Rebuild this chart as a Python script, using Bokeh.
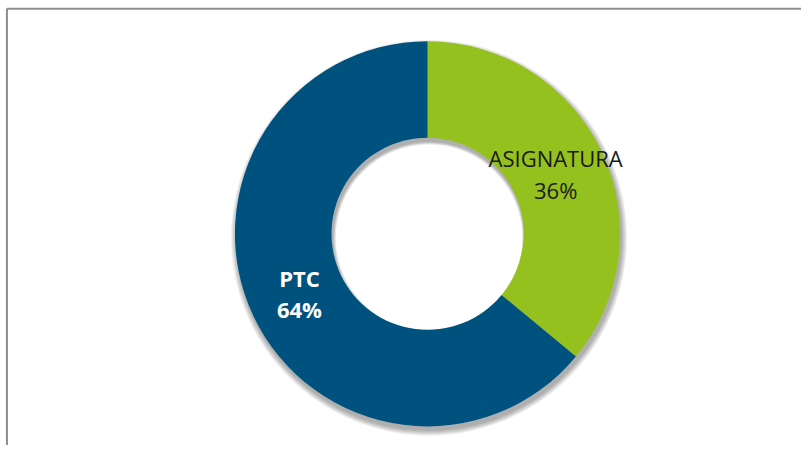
import numpy as np
from bokeh.plotting import figure
from bokeh.models import Range1d, ColumnDataSource
from bokeh.core.properties import value
from bokeh.embed import file_html
from bokeh.resources import INLINE

categories = ["ASIGNATURA", "PTC"]
percents = [36, 64]
colors = ["#95C11F", "#00527E"]
label_colors = ["#1a1a1a", "#ffffff"]
label_styles = ["normal", "bold"]

RW, RH = 809, 453
W, H = 801, 445
p = figure(width=W, height=H, output_backend="svg", toolbar_location=None,
           x_range=Range1d(0, RW), y_range=Range1d(0, RH), min_border=0)
p.axis.visible = False
p.grid.visible = False
p.outline_line_color = None
p.background_fill_color = "white"

# frame border
p.line(x=[6.5, 6.5], y=[0, RH - 8.5], line_color="#8c8c8c", line_width=2)
p.line(x=[6.5, RW], y=[RH - 8.5, RH - 8.5], line_color="#8c8c8c", line_width=2)

cx, cy = 431.3, RH - 237.5
r_in, r_out = 97, 194.5

# soft shadow
for k in range(6):
    p.annular_wedge(x=cx + 1.5, y=cy - 4, inner_radius=r_in - 3 + k * 0.6, outer_radius=r_out + 5.5 - k,
                    start_angle=0, end_angle=2 * np.pi, fill_color="black", fill_alpha=0.06,
                    line_color=None)

vals = np.array(percents, dtype=float)
frac = vals / vals.sum()
cum = np.concatenate([[0], np.cumsum(frac)])
start = np.pi / 2 - 2 * np.pi * cum[:-1]
end = np.pi / 2 - 2 * np.pi * cum[1:]
src = ColumnDataSource(dict(cat=categories, start=start, end=end, color=colors))
p.annular_wedge(x=cx, y=cy, inner_radius=r_in, outer_radius=r_out, start_angle="start",
                end_angle="end", direction="clock", fill_color="color", line_color=None, source=src)

mid = (start + end) / 2
rl = 143
for i, c in enumerate(categories):
    lx = cx + rl * np.cos(mid[i])
    ly = cy + rl * np.sin(mid[i])
    p.text(x=[lx], y=[ly + 16], text=[c], text_align="center", text_baseline="middle",
           text_font=value("Open Sans"), text_font_size="22px", text_color=label_colors[i],
           text_font_style=label_styles[i])
    p.text(x=[lx], y=[ly - 16], text=[f"{percents[i]}%"], text_align="center", text_baseline="middle",
           text_font=value("Open Sans"), text_font_size="22px", text_color=label_colors[i],
           text_font_style=label_styles[i])

open("out.html", "w").write(file_html(p, INLINE))
